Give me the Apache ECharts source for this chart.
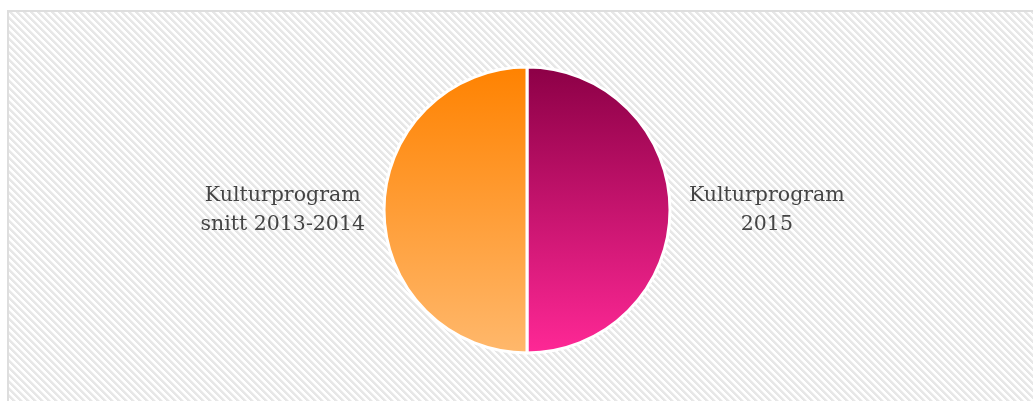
<!DOCTYPE html>
<html>
<head>
<meta charset="utf-8">
<script src="https://cdn.jsdelivr.net/npm/echarts@6/dist/echarts.min.js"></script>
<style>
  html, body { margin: 0; padding: 0; background: #fff; }
  #frame {
    position: absolute; left: 7px; top: 10px; width: 1040px; height: 400px;
    border: 2px solid #dedede;
  }
  #main { position: absolute; left: 0; top: 0; width: 1033px; height: 401px; }
</style>
</head>
<body>
<div id="frame"></div>
<div id="main"></div>
<script>
// two equal halves
const names = ['Kulturprogram\n2015', 'Kulturprogram\nsnitt 2013-2014']
const values = [50, 50]
const topColors = ['#8c0046', '#ff8200']
const bottomColors = ['#ff2896', '#ffb86c']

// striped background tile
const tile = document.createElement('canvas')
tile.width = 7; tile.height = 7
const tctx = tile.getContext('2d')
const img = tctx.createImageData(7, 7)
for (let y = 0; y < 7; y++) {
  for (let x = 0; x < 7; x++) {
    const k = ((x - y) % 7 + 7) % 7
    const v = k < 3 ? 231 : (k === 3 ? 243 : 255)
    const o = (y * 7 + x) * 4
    img.data[o] = v; img.data[o + 1] = v; img.data[o + 2] = v; img.data[o + 3] = 255
  }
}
tctx.putImageData(img, 0, 0)
document.getElementById('frame').style.backgroundImage = 'url(' + tile.toDataURL() + ')'

const chart = echarts.init(document.getElementById('main'))

const option = {
  backgroundColor: 'transparent',
  series: [
    {
      type: 'pie',
      center: [527, 210],
      radius: 143,
      startAngle: 90,
      clockwise: true,
      silent: true,
      itemStyle: { borderColor: '#fff', borderWidth: 3 },
      label: {
        show: true,
        position: 'outside',
        fontFamily: 'DejaVu Serif',
        fontSize: 20.5,
        color: '#444',
        lineHeight: 29,
        formatter: p => p.name.split('\n').map(s => '{c|' + s + '}').join('\n'),
        rich: { c: { align: 'center', fontFamily: 'DejaVu Serif', fontSize: 20.5, color: '#444', lineHeight: 29 } }
      },
      labelLine: { show: false, length: 14, length2: 0 },
      data: names.map((n, i) => ({
        name: n,
        value: values[i],
        itemStyle: {
          color: new echarts.graphic.LinearGradient(0, 0, 0, 1, [
            { offset: 0, color: topColors[i] },
            { offset: 1, color: bottomColors[i] }
          ])
        }
      }))
    }
  ]
}

chart.setOption(option)
</script>
</body>
</html>
